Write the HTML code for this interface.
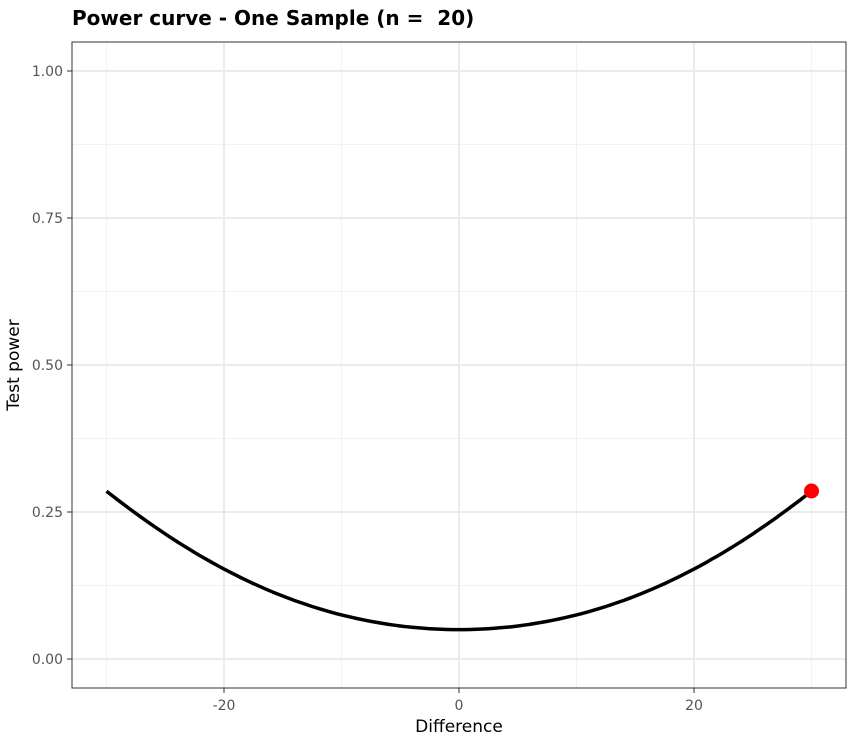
<!DOCTYPE html>
<html><head><meta charset="utf-8"><style>
body{margin:0;background:#fff;}
svg{display:block;font-family:"DejaVu Sans","Liberation Sans",sans-serif;}
</style></head><body>
<svg id="s" width="867" height="745" xmlns="http://www.w3.org/2000/svg">
<rect width="867" height="745" fill="#fff"/>
<g stroke="#f2f2f2" stroke-width="1">
<line x1="72" x2="846" y1="585.5" y2="585.5"/><line x1="72" x2="846" y1="438.5" y2="438.5"/>
<line x1="72" x2="846" y1="291.5" y2="291.5"/><line x1="72" x2="846" y1="144.5" y2="144.5"/>
<line y1="42" y2="688" x1="106.5" x2="106.5"/><line y1="42" y2="688" x1="341.5" x2="341.5"/>
<line y1="42" y2="688" x1="576.5" x2="576.5"/><line y1="42" y2="688" x1="811.5" x2="811.5"/>
</g>
<g stroke="#ebebeb" stroke-width="2">
<line x1="72" x2="846" y1="659" y2="659"/><line x1="72" x2="846" y1="512" y2="512"/>
<line x1="72" x2="846" y1="365" y2="365"/><line x1="72" x2="846" y1="218" y2="218"/>
<line x1="72" x2="846" y1="71" y2="71"/>
<line y1="42" y2="688" x1="224" x2="224"/><line y1="42" y2="688" x1="459" x2="459"/>
<line y1="42" y2="688" x1="694" x2="694"/>
</g>
<path id="c" fill="none" stroke="#000" stroke-width="3.5"/>
<circle cx="811.5" cy="491" r="7.5" fill="#ff0000"/>
<rect x="72" y="42" width="774" height="646" fill="none" stroke="#333" stroke-width="1"/>
<g stroke="#333"><line x1="67" x2="72" y1="659" y2="659"/><line x1="67" x2="72" y1="512" y2="512"/><line x1="67" x2="72" y1="365" y2="365"/><line x1="67" x2="72" y1="218" y2="218"/><line x1="67" x2="72" y1="71" y2="71"/>
<line x1="224" x2="224" y1="688" y2="693"/><line x1="459" x2="459" y1="688" y2="693"/><line x1="694" x2="694" y1="688" y2="693"/></g>
<g fill="#555" font-size="14" text-anchor="end">
<text x="63" y="664">0.00</text><text x="63" y="517">0.25</text><text x="63" y="370">0.50</text><text x="63" y="223">0.75</text><text x="63" y="76">1.00</text>
</g>
<g fill="#555" font-size="14" text-anchor="middle">
<text x="224" y="710">-20</text><text x="459" y="710">0</text><text x="694" y="710">20</text>
</g>
<text x="459" y="732" font-size="17" text-anchor="middle" fill="#000">Difference</text>
<text transform="translate(19,365) rotate(-90)" font-size="17" text-anchor="middle" fill="#000">Test power</text>
<text x="72" y="25" font-size="20" font-weight="bold" fill="#000">Power curve - One Sample (n = &#160;20)</text>
</svg>
<script>
function Phi(x){var t=1/(1+0.2316419*Math.abs(x));var d=0.3989423*Math.exp(-x*x/2);var p=d*t*(0.3193815+t*(-0.3565638+t*(1.781478+t*(-1.821256+t*1.330274))));return x>0?1-p:p;}
var s="";for(var i=0;i<=120;i++){var d=-30+i*0.5;var z=d*0.0464;var p=Phi(z-1.96)+Phi(-z-1.96);var x=459+d*11.75,y=659-p*588;s+=(i?"L":"M")+x.toFixed(1)+","+y.toFixed(1);}
document.getElementById("c").setAttribute("d",s);
</script>
</body></html>
